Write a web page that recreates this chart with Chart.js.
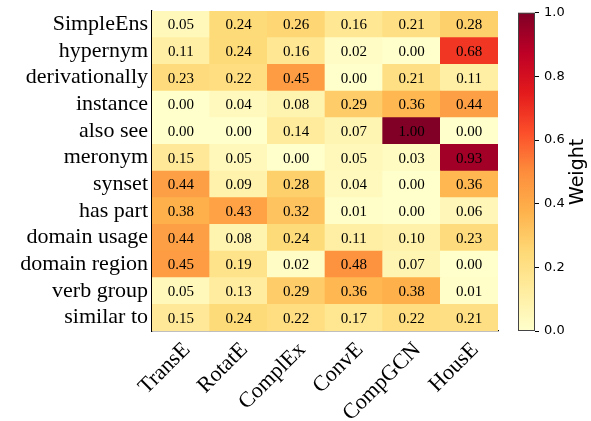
<!DOCTYPE html>
<html>
<head>
<meta charset="utf-8">
<script src="https://cdn.jsdelivr.net/npm/chart.js@4"></script>
<style>
  body { margin: 0; background: #fff; }
  #wrap { position: relative; width: 591px; height: 421px; }
  #heat { position: absolute; left: 0; top: 0; }
  #cbar { position: absolute; left: 510px; top: 0; }
</style>
</head>
<body>
<div id="wrap">
  <canvas id="heat" width="591" height="421"></canvas>
  <canvas id="cbar" width="81" height="421"></canvas>
</div>
<script>
// models (columns) and relations (rows, top to bottom)
var models = ['TransE', 'RotatE', 'ComplEx', 'ConvE', 'CompGCN', 'HousE'];
var relations = ['SimpleEns', 'hypernym', 'derivationally', 'instance', 'also see', 'meronym',
                 'synset', 'has part', 'domain usage', 'domain region', 'verb group', 'similar to'];

var simpleEns     = [0.05, 0.24, 0.26, 0.16, 0.21, 0.28];
var hypernym      = [0.11, 0.24, 0.16, 0.02, 0.00, 0.68];
var derivationally= [0.23, 0.22, 0.45, 0.00, 0.21, 0.11];
var instance      = [0.00, 0.04, 0.08, 0.29, 0.36, 0.44];
var alsoSee       = [0.00, 0.00, 0.14, 0.07, 1.00, 0.00];
var meronym       = [0.15, 0.05, 0.00, 0.05, 0.03, 0.93];
var synset        = [0.44, 0.09, 0.28, 0.04, 0.00, 0.36];
var hasPart       = [0.38, 0.43, 0.32, 0.01, 0.00, 0.06];
var domainUsage   = [0.44, 0.08, 0.24, 0.11, 0.10, 0.23];
var domainRegion  = [0.45, 0.19, 0.02, 0.48, 0.07, 0.00];
var verbGroup     = [0.05, 0.13, 0.29, 0.36, 0.38, 0.01];
var similarTo     = [0.15, 0.24, 0.22, 0.17, 0.22, 0.21];

var weightRows = [simpleEns, hypernym, derivationally, instance, alsoSee, meronym,
                  synset, hasPart, domainUsage, domainRegion, verbGroup, similarTo];

var cbarTicks = [0, 0.2, 0.4, 0.6, 0.8, 1.0];

// matplotlib YlOrRd
var ylOrRd = ['#ffffcc', '#ffeda0', '#fed976', '#feb24c', '#fd8d3c', '#fc4e2a', '#e31a1c', '#bd0026', '#800026'];

function hexRgb(h) {
  return [parseInt(h.substr(1, 2), 16), parseInt(h.substr(3, 2), 16), parseInt(h.substr(5, 2), 16)];
}
function cmap(v) {
  v = Math.max(0, Math.min(1, v));
  var p = v * (ylOrRd.length - 1);
  var i = Math.min(Math.floor(p), ylOrRd.length - 2);
  var f = p - i;
  var a = hexRgb(ylOrRd[i]), b = hexRgb(ylOrRd[i + 1]);
  return 'rgb(' + Math.round(a[0] + (b[0] - a[0]) * f) + ',' +
    Math.round(a[1] + (b[1] - a[1]) * f) + ',' +
    Math.round(a[2] + (b[2] - a[2]) * f) + ')';
}

// one stacked dataset per row, bottom row first
var datasets = [];
for (var r = weightRows.length - 1; r >= 0; r--) {
  datasets.push({
    label: relations[r],
    data: models.map(function () { return 1; }),
    weights: weightRows[r],
    backgroundColor: weightRows[r].map(cmap),
    borderWidth: 0,
    barPercentage: 1,
    categoryPercentage: 1
  });
}

var cellText = {
  id: 'cellText',
  afterDatasetsDraw: function (chart) {
    var ctx = chart.ctx;
    ctx.save();
    ctx.font = '15px "Liberation Serif", "Times New Roman", serif';
    ctx.fillStyle = '#000';
    ctx.textAlign = 'center';
    ctx.textBaseline = 'middle';
    chart.data.datasets.forEach(function (ds, di) {
      chart.getDatasetMeta(di).data.forEach(function (bar, i) {
        var p = bar.getProps(['x', 'y', 'base']);
        ctx.fillText(ds.weights[i].toFixed(2), p.x, (p.y + p.base) / 2 + 1);
      });
    });
    ctx.restore();
  }
};

new Chart(document.getElementById('heat').getContext('2d'), {
  type: 'bar',
  data: { labels: models, datasets: datasets },
  options: {
    responsive: false,
    animation: false,
    layout: { padding: { top: 0, right: 93, left: 0, bottom: 0 } },
    plugins: { legend: { display: false }, tooltip: { enabled: false } },
    scales: {
      x: {
        stacked: true,
        grid: { display: false, drawTicks: false },
        border: { display: true, color: '#000', width: 1.2 },
        ticks: {
          color: '#000',
          font: { family: '"Liberation Serif", serif', size: 22 },
          maxRotation: 45, minRotation: 45, padding: 6, labelOffset: 6
        },
        afterFit: function (s) { s.height = 90; }
      },
      y: { stacked: true, min: 0, max: 12, display: false },
      rows: {
        type: 'category',
        position: 'left',
        labels: relations,
        offset: true,
        grid: { display: false, drawTicks: false },
        border: { display: true, color: '#000', width: 1.2 },
        ticks: {
          color: '#000',
          autoSkip: false,
          font: { family: '"Liberation Serif", serif', size: 22 },
          padding: 4
        },
        afterFit: function (s) { s.width = 152; s.paddingTop = 11; s.paddingBottom = 0; }
      }
    }
  },
  plugins: [cellText]
});

// colorbar
var cbarFrame = {
  id: 'cbarFrame',
  afterDraw: function (chart) {
    var a = chart.chartArea, ctx = chart.ctx;
    ctx.save();
    ctx.strokeStyle = '#444';
    ctx.lineWidth = 1;
    ctx.strokeRect(a.left + 0.5, a.top + 0.5, a.right - a.left - 1, a.bottom - a.top - 1);
    ctx.font = '19px "DejaVu Sans", sans-serif';
    ctx.fillStyle = '#000';
    ctx.textAlign = 'center';
    ctx.textBaseline = 'middle';
    ctx.translate(68, (a.top + a.bottom) / 2);
    ctx.rotate(-Math.PI / 2);
    ctx.fillText('Weight', 0, 0);
    ctx.restore();
  }
};

new Chart(document.getElementById('cbar').getContext('2d'), {
  type: 'bar',
  data: {
    labels: [''],
    datasets: [{
      data: [1],
      barPercentage: 1,
      categoryPercentage: 1,
      borderWidth: 0,
      backgroundColor: function (c) {
        var area = c.chart.chartArea;
        if (!area) return ylOrRd[0];
        var g = c.chart.ctx.createLinearGradient(0, area.bottom, 0, area.top);
        ylOrRd.forEach(function (col, i) { g.addColorStop(i / (ylOrRd.length - 1), col); });
        return g;
      }
    }]
  },
  options: {
    responsive: false,
    animation: false,
    layout: { padding: { top: 10, left: 8, right: 0, bottom: 0 } },
    plugins: { legend: { display: false }, tooltip: { enabled: false } },
    scales: {
      x: {
        display: false,
        afterFit: function (s) { s.height = 90; }
      },
      y: {
        position: 'right',
        min: 0, max: 1,
        afterBuildTicks: function (s) { s.ticks = cbarTicks.map(function (v) { return { value: v }; }); },
        grid: { drawOnChartArea: false, drawTicks: true, tickLength: 4, color: '#000' },
        border: { display: false },
        ticks: {
          color: '#000',
          font: { family: '"DejaVu Sans", sans-serif', size: 13 },
          padding: 5,
          callback: function (v) { return v.toFixed(1); }
        },
        afterFit: function (s) { s.width = 56; }
      }
    }
  },
  plugins: [cbarFrame]
});
</script>
</body>
</html>
